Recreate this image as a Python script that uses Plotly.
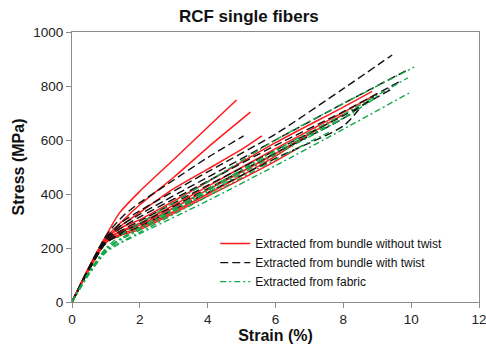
import plotly.graph_objects as go

# ---- data: strain (%) / stress (MPa) ----
red_x = [
    [0, 0.5, 1, 1.4, 2, 3, 4, 4.85],
    [0, 0.5, 1, 1.5, 2, 3, 4, 5.26],
    [0, 0.5, 1, 1.5, 2, 3, 4, 5, 5.6],
    [0, 0.5, 1, 1.5, 2, 4, 6, 8, 8.85],
    [0, 0.5, 1, 1.5, 2, 4, 6, 8, 9.0],
    [0, 0.5, 1, 1.5, 2, 4, 6, 8.0],
    [0, 0.5, 1, 1.5, 2, 4, 6, 7.2],
    [0, 0.5, 1, 1.5, 2, 4, 6, 6.8],
]
red_y = [
    [0, 128, 245, 330, 410, 528, 647, 748],
    [0, 125, 238, 302, 360, 462, 572, 703],
    [0, 125, 232, 288, 332, 420, 492, 565, 615],
    [0, 128, 236, 278, 305, 445, 590, 722, 780],
    [0, 125, 230, 266, 292, 428, 568, 702, 772],
    [0, 128, 232, 263, 285, 415, 550, 695],
    [0, 122, 225, 255, 275, 400, 540, 640],
    [0, 120, 220, 250, 268, 392, 522, 580],
]
black_x = [
    [0, 0.5, 1, 1.5, 2, 3, 4, 5.06],
    [0, 0.5, 1, 1.5, 2, 4, 6, 8, 9.44],
    [0, 0.5, 1, 1.5, 2, 4, 6, 8, 9.9],
    [0, 0.5, 1, 1.5, 2, 4, 6, 8, 9.74],
    [0, 0.5, 1, 1.5, 2, 4, 6, 8, 9.45],
    [0, 0.5, 1, 1.5, 2, 4, 6, 8, 8.9],
    [0, 0.5, 1, 1.5, 2, 4, 6, 8, 8.5],
]
black_y = [
    [0, 128, 245, 318, 368, 452, 535, 615],
    [0, 125, 238, 298, 338, 482, 622, 790, 915],
    [0, 125, 234, 288, 325, 462, 600, 735, 860],
    [0, 120, 228, 278, 315, 447, 580, 705, 822],
    [0, 120, 224, 268, 300, 432, 562, 690, 790],
    [0, 118, 220, 260, 290, 420, 552, 680, 760],
    [0, 118, 218, 253, 280, 405, 532, 652, 720],
]
green_x = [
    [0, 0.5, 1, 1.5, 2, 4, 6, 8, 10.09],
    [0, 0.5, 1, 1.5, 2, 4, 6, 8, 9.9],
    [0, 0.5, 1, 1.5, 2, 4, 6, 8, 9.94],
    [0, 0.5, 1, 1.5, 2, 4, 6, 8, 9.0],
    [0, 0.5, 1, 1.5, 2, 4, 6, 8.3],
    [0, 0.5, 1, 1.5, 2, 4, 6, 7.6],
]
green_y = [
    [0, 110, 200, 252, 292, 445, 600, 735, 870],
    [0, 110, 195, 240, 276, 418, 562, 695, 830],
    [0, 102, 184, 223, 253, 375, 505, 640, 774],
    [0, 106, 190, 236, 266, 405, 545, 680, 760],
    [0, 108, 194, 238, 270, 412, 555, 700],
    [0, 104, 186, 226, 258, 392, 528, 630],
]

series = [
    ("Extracted from bundle without twist", red_x, red_y, "#ff1a1a", "solid", 1.5),
    ("Extracted from bundle with twist", black_x, black_y, "#111111", "8px,4px", 1.4),
    ("Extracted from fabric", green_x, green_y, "#13a84a", "6px,3px,2px,3px", 1.4),
]

FONT = "Liberation Sans, Arial"
fig = go.Figure()
for name, xs, ys, col, dash, w in series:
    for i, (x, y) in enumerate(zip(xs, ys)):
        fig.add_trace(go.Scatter(
            x=x, y=y, mode="lines", name=name, legendgroup=name,
            showlegend=(i == 0),
            line=dict(color=col, dash=dash, width=w, shape="spline", smoothing=0.7),
        ))

axis_common = dict(
    showgrid=False, zeroline=False, showline=True, linecolor="#8c8c8c",
    linewidth=1, mirror=True, ticks="outside", ticklen=5, tickcolor="#8c8c8c",
    ticklabeloverflow="allow", automargin=False,
    tickfont=dict(family=FONT, size=13.5, color="#222"),
)
fig.update_layout(
    width=486, height=346,
    margin=dict(l=72, r=7, t=32, b=44),
    paper_bgcolor="white", plot_bgcolor="white",
    title=dict(text="<b>RCF single fibers</b>", x=0.512, xanchor="center",
               y=0.955, yanchor="middle",
               font=dict(family=FONT, size=17, color="#111")),
    xaxis=dict(range=[0, 12], dtick=2, **axis_common,
               title=dict(text="<b>Strain (%)</b>", standoff=2,
                          font=dict(family=FONT, size=16, color="#111"))),
    yaxis=dict(range=[0, 1000], dtick=200, **axis_common,
               title=dict(text="<b>Stress (MPa)</b>", standoff=4,
                          font=dict(family=FONT, size=16, color="#111"))),
    legend=dict(x=0.352, y=0.27, xanchor="left", yanchor="top",
                bgcolor="rgba(0,0,0,0)", itemwidth=30, tracegroupgap=0,
                font=dict(family=FONT, size=12, color="#111")),
    showlegend=True,
)
fig.write_html("out.html")
